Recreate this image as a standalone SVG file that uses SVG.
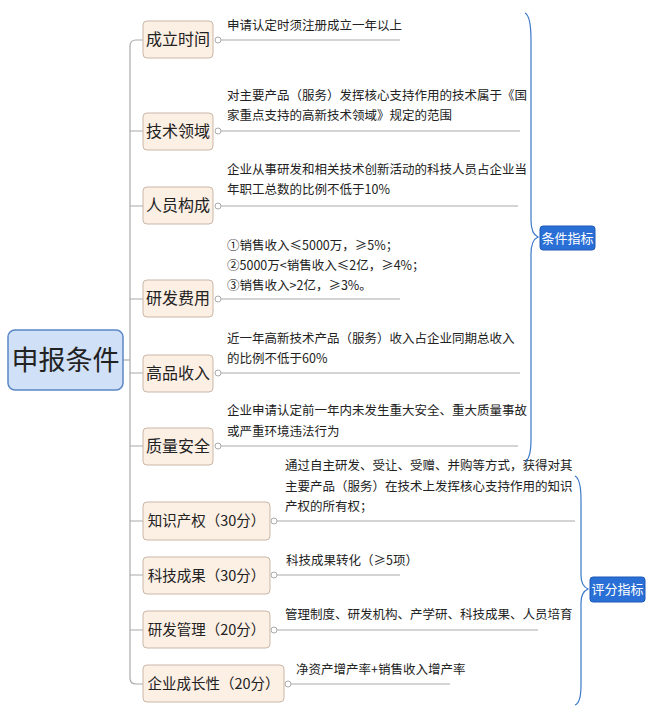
<svg xmlns="http://www.w3.org/2000/svg" width="657" height="718" viewBox="0 0 657 718">
<style>
.n rect{fill:#fcefe4;stroke:#c9b7a8;stroke-width:1}
.n text{font-family:"Noto Sans CJK SC",sans-serif;font-size:16px;fill:#222}
.n text.s{font-size:14.5px}
.d{font-family:"Noto Sans CJK SC",sans-serif;font-size:12.5px;fill:#222}
.c path,.c line{fill:none;stroke:#aaa;stroke-width:1.2}
.c circle{fill:#fff;stroke:#aaa;stroke-width:1}
.b{fill:none;stroke:#3a78c8;stroke-width:1.2}
.tag rect{fill:#2a6fd6;stroke:#1d5bb8}
.tag text{font-family:"Noto Sans CJK SC",sans-serif;font-size:13px;fill:#fff}
</style>
<rect width="657" height="718" fill="#fff"/>
<g class="c">
<path d="M123 360 H130"/>
<path d="M143 40 H136 Q130 40 130 46 V678 Q130 684 136 684 H143"/>
<path d="M130 131 H143 M130 206 H143 M130 299 H143 M130 373 H143 M130 446 H143 M130 521 H143 M130 575 H143 M130 630 H143"/>
<line x1="221" y1="40" x2="400" y2="40"/><circle cx="218" cy="40" r="3"/>
<line x1="221" y1="131" x2="520" y2="131"/><circle cx="218" cy="131" r="3"/>
<line x1="221" y1="206" x2="518" y2="206"/><circle cx="218" cy="206" r="3"/>
<line x1="221" y1="299" x2="400" y2="299"/><circle cx="218" cy="299" r="3"/>
<line x1="221" y1="373" x2="520" y2="373"/><circle cx="218" cy="373" r="3"/>
<line x1="221" y1="446" x2="518" y2="446"/><circle cx="218" cy="446" r="3"/>
<line x1="277" y1="521" x2="575" y2="521"/><circle cx="274" cy="521" r="3"/>
<line x1="277" y1="575" x2="400" y2="575"/><circle cx="274" cy="575" r="3"/>
<line x1="277" y1="630" x2="538" y2="630"/><circle cx="274" cy="630" r="3"/>
<line x1="291" y1="684" x2="450" y2="684"/><circle cx="288" cy="684" r="3"/>
</g>
<g id="root"><rect x="8" y="330" width="115" height="60" rx="7" fill="#cfe0f7" stroke="#5b86c5" stroke-width="1.5"/><text x="65.5" y="370" text-anchor="middle" font-family="Noto Sans CJK SC,sans-serif" font-size="27" fill="#222">申报条件</text></g>
<g id="n1" class="n"><rect x="143" y="21" width="70" height="37" rx="4"/><text x="178" y="45" text-anchor="middle">成立时间</text></g>
<g id="n2" class="n"><rect x="143" y="113" width="70" height="37" rx="4"/><text x="178" y="137" text-anchor="middle">技术领域</text></g>
<g id="n3" class="n"><rect x="143" y="187" width="70" height="37" rx="4"/><text x="178" y="211" text-anchor="middle">人员构成</text></g>
<g id="n4" class="n"><rect x="143" y="280" width="70" height="37" rx="4"/><text x="178" y="304" text-anchor="middle">研发费用</text></g>
<g id="n5" class="n"><rect x="143" y="355" width="70" height="37" rx="4"/><text x="178" y="379" text-anchor="middle">高品收入</text></g>
<g id="n6" class="n"><rect x="143" y="428" width="70" height="37" rx="4"/><text x="178" y="452" text-anchor="middle">质量安全</text></g>
<g id="n7" class="n"><rect x="143" y="502" width="127" height="38" rx="4"/><text class="s" x="206.5" y="526" text-anchor="middle">知识产权（30分）</text></g>
<g id="n8" class="n"><rect x="143" y="557" width="127" height="37" rx="4"/><text class="s" x="206.5" y="581" text-anchor="middle">科技成果（30分）</text></g>
<g id="n9" class="n"><rect x="143" y="611" width="127" height="37" rx="4"/><text class="s" x="206.5" y="635" text-anchor="middle">研发管理（20分）</text></g>
<g id="n10" class="n"><rect x="143" y="665" width="141" height="37" rx="4"/><text class="s" x="213.5" y="689" text-anchor="middle">企业成长性（20分）</text></g>
<g id="texts">
<text class="d" x="227" y="30">申请认定时须注册成立一年以上</text>
<text class="d" x="227" y="100">对主要产品（服务）发挥核心支持作用的技术属于《国</text>
<text class="d" x="227" y="120">家重点支持的高新技术领域》规定的范围</text>
<text class="d" x="227" y="174">企业从事研发和相关技术创新活动的科技人员占企业当</text>
<text class="d" x="227" y="194">年职工总数的比例不低于10%</text>
<text class="d" x="227" y="250">①销售收入≤5000万，≥5%；</text>
<text class="d" x="227" y="270">②5000万&lt;销售收入≤2亿，≥4%；</text>
<text class="d" x="227" y="290">③销售收入&gt;2亿，≥3%。</text>
<text class="d" x="227" y="343">近一年高新技术产品（服务）收入占企业同期总收入</text>
<text class="d" x="227" y="363">的比例不低于60%</text>
<text class="d" x="227" y="415">企业申请认定前一年内未发生重大安全、重大质量事故</text>
<text class="d" x="227" y="436">或严重环境违法行为</text>
<text class="d" x="285" y="470">通过自主研发、受让、受赠、并购等方式，获得对其</text>
<text class="d" x="285" y="491">主要产品（服务）在技术上发挥核心支持作用的知识</text>
<text class="d" x="285" y="511">产权的所有权；</text>
<text class="d" x="286" y="565">科技成果转化（≥5项）</text>
<text class="d" x="285" y="619">管理制度、研发机构、产学研、科技成果、人员培育</text>
<text class="d" x="296" y="674">净资产增产率+销售收入增产率</text>
</g>
<g id="brace1"><path class="b" d="M525 13 Q531 16 531 40 L531 220 Q531 234 538 237 Q531 240 531 254 L531 440 Q531 458 525 462"/></g>
<g id="tag1" class="tag"><rect x="540" y="226" width="55" height="24" rx="3"/><text x="567.5" y="243" text-anchor="middle">条件指标</text></g>
<g id="brace2"><path class="b" d="M575 476 Q581 479 581 500 L581 575 Q581 586 588 589 Q581 592 581 603 L581 685 Q581 703 575 705"/></g>
<g id="tag2" class="tag"><rect x="590" y="577" width="55" height="25" rx="3"/><text x="617.5" y="594" text-anchor="middle">评分指标</text></g>
</svg>
